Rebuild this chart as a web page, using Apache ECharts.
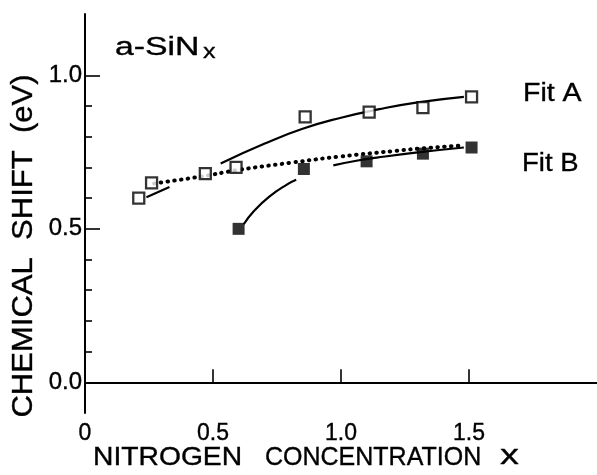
<!DOCTYPE html>
<html>
<head>
<meta charset="utf-8">
<script src="https://cdn.jsdelivr.net/npm/echarts@6/dist/echarts.min.js"></script>
<style>
  html, body { margin: 0; padding: 0; background: #fff; }
  #chart { width: 597px; height: 475px; }
</style>
</head>
<body>
<div id="chart"></div>
<script>
// Measured chemical shift vs nitrogen concentration in a-SiNx
const openX   = [0.21, 0.26, 0.47, 0.59, 0.86, 1.11, 1.32, 1.51];
const openY   = [0.60, 0.65, 0.68, 0.70, 0.865, 0.88, 0.895, 0.93];
const filledX = [0.60, 0.855, 1.10, 1.32, 1.51];
const filledY = [0.50, 0.695, 0.72, 0.745, 0.765];

// Fit curves (null marks a break in the drawn curve)
const fitAX = [0.24, 0.33, null, 0.53, 0.70, 0.85, 1.00, 1.15, 1.30, 1.48];
const fitAY = [0.603, 0.636, null, 0.713, 0.777, 0.826, 0.862, 0.890, 0.912, 0.930];
const fitBX = [0.62, 0.66, 0.72, 0.79, 0.825, null, 0.97, 1.06, 1.14, 1.30, 1.48];
const fitBY = [0.515, 0.558, 0.605, 0.645, 0.660, null, 0.707, 0.722, 0.732, 0.749, 0.765];
const dotX  = [0.27, 0.45, 0.60, 0.80, 1.00, 1.20, 1.30, 1.48];
const dotY  = [0.648, 0.670, 0.692, 0.715, 0.736, 0.753, 0.761, 0.772];

// Axis ticks and labels
const xTickValues  = [0.5, 1.0, 1.5];
const xLabelValues = [0, 0.5, 1.0, 1.5];
const yMajorValues = [0.0, 0.5, 1.0];
const yMinorValues = [0.1, 0.2, 0.3, 0.4, 0.6, 0.7, 0.8, 0.9];

const pairs = (xs, ys) => xs.map((x, i) => (x === null ? ['-', '-'] : [x, ys[i]]));

const FONT = '"Liberation Sans", Arial, Helvetica, sans-serif';
const INK = '#000';
const HEAVY = 0.35; // slight extra stroke on glyphs for a heavier print look

const chart = echarts.init(document.getElementById('chart'), null, { renderer: 'canvas' });

const fitLine = (data, extra) => Object.assign({
  type: 'line',
  data: data,
  smooth: 0.5,
  showSymbol: false,
  symbol: 'none',
  connectNulls: false,
  silent: true,
  z: 2,
  lineStyle: { color: INK, width: 2.2 }
}, extra || {});

const textEl = (x, y, text, size, extra) => Object.assign({
  type: 'text', x: x, y: y,
  style: { text: text, font: size + 'px ' + FONT, fill: INK, stroke: INK, lineWidth: HEAVY,
           align: 'left', verticalAlign: 'middle' }
}, extra || {});

const tickLabel = (extra) => Object.assign({
  show: true, color: INK, fontFamily: FONT,
  textBorderColor: INK, textBorderWidth: HEAVY
}, extra);

chart.setOption({
  backgroundColor: '#fff',
  animation: false,
  grid: { left: 85, top: 14, width: 517, height: 399 },
  xAxis: [
    {
      type: 'value', min: 0, max: 2,
      position: 'bottom',
      axisLine: { show: true, lineStyle: { color: INK, width: 2 } },
      axisTick: { show: true, inside: true, length: 13, customValues: xTickValues,
                  lineStyle: { color: INK, width: 1.6 } },
      axisLabel: tickLabel({ customValues: xLabelValues, margin: 9, fontSize: 23,
                             formatter: v => (v === 0 ? '0' : v.toFixed(1)) }),
      splitLine: { show: false }
    },
    {
      type: 'value', min: 0, max: 2,
      position: 'top',
      axisLine: { show: true, lineStyle: { color: INK, width: 2 } },
      axisTick: { show: false },
      axisLabel: { show: false },
      splitLine: { show: false }
    }
  ],
  yAxis: [
    {
      type: 'value', min: -0.1, max: 1.2,
      position: 'left',
      axisLine: { show: true, lineStyle: { color: INK, width: 2 } },
      axisTick: { show: true, inside: true, length: 15, customValues: yMajorValues,
                  lineStyle: { color: INK, width: 1.6 } },
      axisLabel: tickLabel({ customValues: yMajorValues, margin: 3, fontSize: 24,
                             formatter: v => v.toFixed(1) }),
      splitLine: { show: false }
    },
    {
      type: 'value', min: -0.1, max: 1.2,
      position: 'left',
      axisLine: { show: false },
      axisTick: { show: true, inside: true, length: 7, customValues: yMinorValues,
                  lineStyle: { color: INK, width: 1.6 } },
      axisLabel: { show: false },
      splitLine: { show: false }
    }
  ],
  series: [
    fitLine(pairs(fitAX, fitAY)),
    fitLine(pairs(fitBX, fitBY)),
    fitLine(pairs(dotX, dotY), {
      lineStyle: { color: INK, width: 4, type: [0.5, 6.3], cap: 'round' }
    }),
    {
      type: 'scatter',
      data: pairs(openX, openY),
      symbol: 'rect',
      symbolSize: 11,
      z: 5,
      itemStyle: { color: '#fff', borderColor: INK, borderWidth: 2.3 }
    },
    {
      type: 'scatter',
      data: pairs(filledX, filledY),
      symbol: 'rect',
      symbolSize: 12,
      z: 5,
      itemStyle: { color: INK }
    }
  ],
  graphic: [
    textEl(115, 48, 'a-SiN', 26, { scaleX: 1.3 }),
    textEl(203, 52, 'x', 21, { scaleX: 1.2 }),
    textEl(523, 94, 'Fit A', 25, { scaleX: 1.14 }),
    textEl(522, 164, 'Fit B', 25, { scaleX: 1.1 }),
    // x-axis title
    textEl(93, 458, 'NITROGEN', 25, { scaleX: 1.13 }),
    textEl(265, 458, 'CONCENTRATION', 25),
    textEl(500, 457, 'x', 27, { scaleX: 1.4 }),
    // y-axis title
    { type: 'text', x: 24, y: 246, rotation: Math.PI / 2, scaleX: 1.07,
      style: { text: 'CHEMICAL  SHIFT  (eV)', font: '29px ' + FONT, fill: INK,
               stroke: INK, lineWidth: HEAVY, align: 'center', verticalAlign: 'middle' } }
  ]
});
</script>
</body>
</html>
